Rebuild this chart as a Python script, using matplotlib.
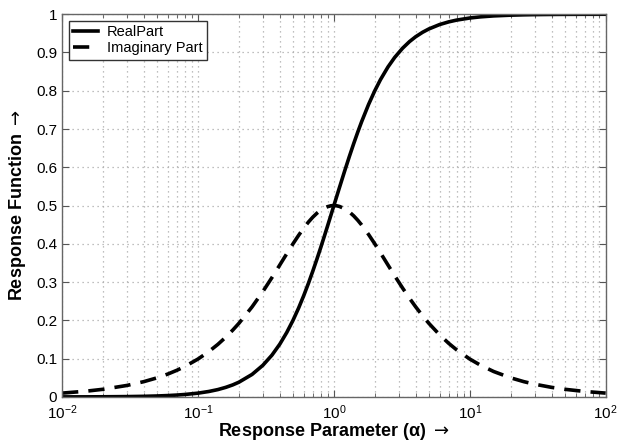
import matplotlib
matplotlib.use('Agg')
import matplotlib.pyplot as plt
from matplotlib.ticker import LogLocator, NullFormatter

plt.rcParams['font.family'] = ['Liberation Sans', 'DejaVu Sans']

# values
alpha = [0.01, 0.015, 0.02, 0.03, 0.04, 0.05, 0.06, 0.07, 0.08, 0.1, 0.12, 0.14, 0.16, 0.18,
         0.2, 0.25, 0.3, 0.35, 0.4, 0.45, 0.5, 0.55, 0.6, 0.65, 0.7, 0.75, 0.8, 0.85, 0.9,
         0.95, 1.0, 1.05, 1.1, 1.2, 1.3, 1.4, 1.5, 1.6, 1.8, 2.0, 2.2, 2.5, 2.8, 3.2, 3.6,
         4, 4.5, 5, 6, 7, 8, 10, 12, 15, 20, 25, 30, 40, 50, 70, 100]
real_part = [0.0001, 0.0002, 0.0004, 0.0009, 0.0016, 0.0025, 0.0036, 0.0049, 0.0064, 0.0099,
             0.0142, 0.0192, 0.025, 0.0314, 0.0385, 0.0588, 0.0826, 0.1091, 0.1379, 0.1684,
             0.2, 0.2322, 0.2647, 0.297, 0.3289, 0.36, 0.3902, 0.4195, 0.4475, 0.4744, 0.5,
             0.5244, 0.5475, 0.5902, 0.6283, 0.6622, 0.6923, 0.7191, 0.7642, 0.8, 0.8288,
             0.8621, 0.8869, 0.911, 0.9284, 0.9412, 0.9529, 0.9615, 0.973, 0.98, 0.9846,
             0.9901, 0.9931, 0.9956, 0.9975, 0.9984, 0.9989, 0.9994, 0.9996, 0.9998, 0.9999]
imag_part = [0.01, 0.015, 0.02, 0.03, 0.04, 0.0499, 0.0598, 0.0697, 0.0795, 0.099, 0.1183,
             0.1373, 0.156, 0.1744, 0.1923, 0.2353, 0.2752, 0.3118, 0.3448, 0.3742, 0.4,
             0.4222, 0.4412, 0.457, 0.4698, 0.48, 0.4878, 0.4935, 0.4972, 0.4994, 0.5,
             0.4994, 0.4977, 0.4918, 0.4833, 0.473, 0.4615, 0.4494, 0.4245, 0.4, 0.3767,
             0.3448, 0.3167, 0.2847, 0.2579, 0.2353, 0.2118, 0.1923, 0.1622, 0.14, 0.1231,
             0.099, 0.0828, 0.0664, 0.0499, 0.0399, 0.0333, 0.025, 0.02, 0.0143, 0.01]

fig = plt.figure(figsize=(6.27, 4.44), dpi=100)
ax = fig.add_axes([0.099, 0.106, 0.867, 0.862])

ax.semilogx(alpha, real_part, color='black', lw=2.6, label='RealPart')
ax.semilogx(alpha, imag_part, color='black', lw=2.6, ls=(0, (4.5, 2.8)), label='Imaginary Part')

ax.set_xlim(0.01, 100)
ax.set_ylim(0, 1)
ax.set_yticks([0, 0.1, 0.2, 0.3, 0.4, 0.5, 0.6, 0.7, 0.8, 0.9, 1])
ax.set_yticklabels(['0', '0.1', '0.2', '0.3', '0.4', '0.5', '0.6', '0.7', '0.8', '0.9', '1'])
ax.xaxis.set_major_locator(LogLocator(base=10, numticks=10))
ax.xaxis.set_minor_locator(LogLocator(base=10, subs=range(2, 10), numticks=10))
ax.xaxis.set_minor_formatter(NullFormatter())

ax.grid(True, which='major', ls=(0, (1, 3)), color='#aaaaaa', lw=0.9)
ax.grid(True, which='minor', axis='x', ls=(0, (1, 3)), color='#aaaaaa', lw=0.9)
ax.tick_params(which='both', direction='in', top=True, right=True, labelsize=11, color='#555555')
ax.tick_params(which='major', length=5)
ax.tick_params(which='minor', length=3)
ax.tick_params(axis='x', pad=5)
for s in ax.spines.values():
    s.set_color('#666666')
    s.set_linewidth(1.0)

ax.set_xlabel(r'Response Parameter (α) $\rightarrow$', fontsize=13, fontweight='bold', labelpad=-1)
ax.set_ylabel(r'Response Function $\rightarrow$', fontsize=13, fontweight='bold', labelpad=6)

leg = ax.legend(loc='upper left', fontsize=10.5, fancybox=False, framealpha=1,
                edgecolor='#333333', borderaxespad=0.45, handlelength=1.7,
                handletextpad=0.6, borderpad=0.3, labelspacing=0.15)
leg.get_frame().set_linewidth(1.0)

fig.savefig('out.png', dpi=100)
